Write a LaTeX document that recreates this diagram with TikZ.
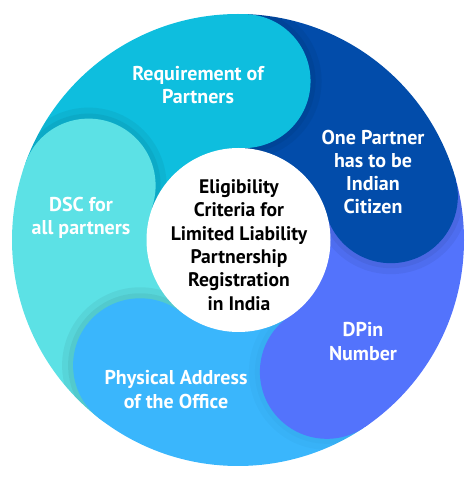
\documentclass[tikz,border=0pt]{standalone}
\usepackage{fontspec}
\setmainfont{PT Sans}
\definecolor{cyanseg}{HTML}{0EBEDE}
\definecolor{darkseg}{HTML}{024CAA}
\definecolor{medseg}{HTML}{5373FC}
\definecolor{lightseg}{HTML}{3AB6FC}
\definecolor{tealseg}{HTML}{5CE1E5}
\begin{document}
\begin{tikzpicture}[x=1pt,y=1pt,
  lbl/.style={text=white,font=\bfseries\fontsize{20}{23.3}\selectfont,align=center,inner sep=0pt},
  ttl/.style={text=black,font=\bfseries\fontsize{19.6}{23.3}\selectfont,align=center,inner sep=0pt}]
\useasboundingbox (0,0) rectangle (472,477);
\begin{scope}[shift={(238,237)}]
  \begin{scope}
    \clip (0,0) circle[radius=226];
    \fill[cyanseg]  (0,0) -- (88:240)  arc[start angle=88,  end angle=160, radius=240] -- cycle;
    \fill[darkseg]  (0,0) -- (16:240)  arc[start angle=16,  end angle=88,  radius=240] -- cycle;
    \fill[medseg]   (0,0) -- (-56:240) arc[start angle=-56, end angle=16,  radius=240] -- cycle;
    \fill[lightseg] (0,0) -- (-128:240) arc[start angle=-128, end angle=-56, radius=240] -- cycle;
    \fill[tealseg]  (0,0) -- (160:240) arc[start angle=160, end angle=232, radius=240] -- cycle;
    \foreach \a/\o in {88/0.05,16/0.05,-56/0.02,-128/0.05,160/0.05}{
      \begin{scope}
        \clip (0,0) -- (\a:240) arc[start angle=\a, end angle=\a-72, radius=240] -- cycle;
        \fill[black,opacity=\o] (\a:159) circle[radius=78];
        \fill[black,opacity=\o] (\a:159) circle[radius=72];
      \end{scope}}
    \fill[cyanseg]  (88:159)   circle[radius=67];
    \fill[darkseg]  (16:159)   circle[radius=67];
    \fill[medseg]   (-56:159)  circle[radius=67];
    \fill[lightseg] (-128:159) circle[radius=67];
    \fill[tealseg]  (160:159)  circle[radius=67];
  \end{scope}
  \fill[white] (0.5,0) circle[radius=92];
\end{scope}
\node[ttl] (title) at (239,232) {Eligibility\\Criteria for\\Limited Liability\\Partnership\\Registration\\in India};
\node[lbl] (req) at (198,392) {Requirement of\\Partners};
\node[lbl] (one) at (373,305) {One Partner\\has to be\\Indian\\Citizen};
\node[lbl] (dsc) at (81,259) {DSC for\\all partners};
\node[lbl] (dpin) at (363,135.5) {DPin\\Number};
\node[lbl] (phys) at (176,87.5) {Physical Address\\of the Office};
\end{tikzpicture}
\end{document}
